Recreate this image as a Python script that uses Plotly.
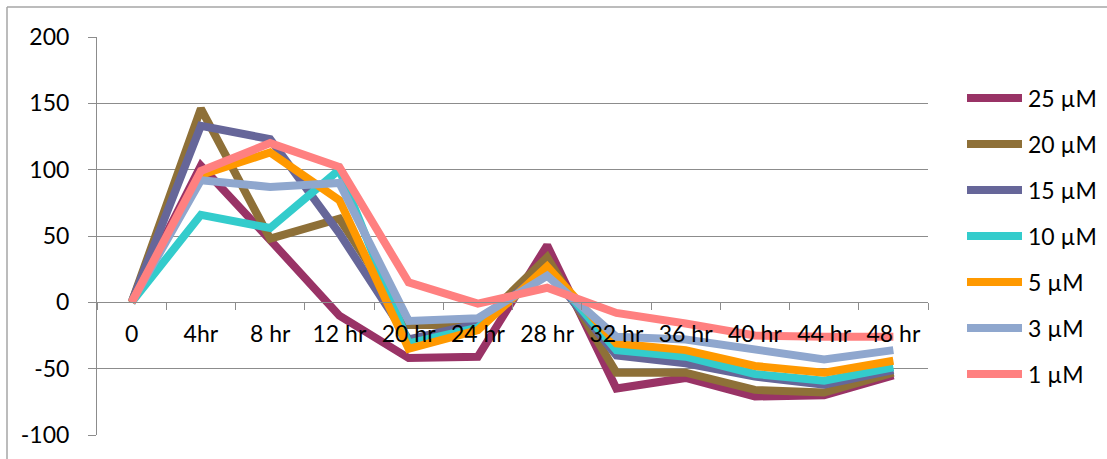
import plotly.graph_objects as go

# Time points along the category axis
time_points = ["0", "4hr", "8 hr", "12 hr", "20 hr", "24 hr", "28 hr",
               "32 hr", "36 hr", "40 hr", "44 hr", "48 hr"]

# Response (%) for each concentration
conc_25 = [0, 103, 47, -10, -42, -41, 43, -65, -57, -71, -70, -55]
conc_20 = [0, 146, 48, 63, -17, -17, 34, -53, -53, -66, -68, -53]
conc_15 = [0, 133, 123, 52, -28, -16, 25, -40, -46, -56, -62, -51]
conc_10 = [0, 66, 56, 100, -31, -19, 25, -36, -41, -54, -59, -49]
conc_5 = [0, 96, 113, 77, -35, -21, 27, -31, -36, -48, -53, -44]
conc_3 = [0, 92, 87, 90, -14, -12, 20, -26, -28, -36, -43, -36]
conc_1 = [0, 99, 120, 102, 15, -1, 11, -8, -16, -25, -26, -26]

series_names = ["25 µM", "20 µM", "15 µM", "10 µM", "5 µM", "3 µM", "1 µM"]
series_values = [conc_25, conc_20, conc_15, conc_10, conc_5, conc_3, conc_1]
series_colors = ["#993366", "#8E7038", "#666699", "#33CCCC",
                 "#FF9900", "#8FA7CE", "#FF8080"]

y_ticks = [-100, -50, 0, 50, 100, 150, 200]
y_tick_text = [str(v) for v in y_ticks]

FONT = "Lato, 'Open Sans', sans-serif"
FSIZE = 23
GRID = "#8c8c8c"

fig = go.Figure()
for name, vals, col in zip(series_names, series_values, series_colors):
    fig.add_trace(go.Scatter(
        x=time_points, y=vals, name=name, mode="lines",
        line=dict(color=col, width=8),
        showlegend=False,
    ))

# plot area geometry (px)
W, H = 1107, 459
L, R, T, B = 97, 179, 37, 24
pw, ph = W - L - R, H - T - B
y_min, y_max = -100, 200


def px_to_paper(px, py):
    return (px - L) / pw, (H - B - py) / ph


zero_pos = (0 - y_min) / (y_max - y_min)

fig.update_layout(
    width=W, height=H,
    margin=dict(l=L, r=R, t=T, b=B),
    paper_bgcolor="white", plot_bgcolor="white",
    font=dict(family=FONT, size=FSIZE, color="black"),
    xaxis=dict(
        type="category", categoryorder="array", categoryarray=time_points,
        range=[-0.5, len(time_points) - 0.5],
        anchor="free", position=zero_pos,
        showline=True, linecolor=GRID, linewidth=1,
        ticks="outside", ticklen=7, tickcolor=GRID, tickson="boundaries",
        showgrid=False, zeroline=False,
        tickfont=dict(size=FSIZE, family=FONT), ticklabelstandoff=11,
    ),
    yaxis=dict(
        range=[y_min, y_max], tickvals=y_ticks, ticktext=y_tick_text,
        showline=True, linecolor=GRID, linewidth=1,
        ticks="outside", ticklen=8, tickcolor=GRID,
        showgrid=True, gridcolor=GRID, gridwidth=1, zeroline=False,
        tickfont=dict(size=FSIZE, family=FONT), ticklabelstandoff=14,
    ),
)

# legend: swatch line plus label for each series, stacked on the right
leg_x0, leg_x1, leg_text_x = 967, 1022, 1026
leg_y0, leg_step = 98, 46
for i, (name, col) in enumerate(zip(series_names, series_colors)):
    yy = leg_y0 + i * leg_step
    sx0, sy = px_to_paper(leg_x0, yy)
    sx1, _ = px_to_paper(leg_x1, yy)
    tx, _ = px_to_paper(leg_text_x, yy)
    fig.add_shape(type="line", xref="paper", yref="paper",
                  x0=sx0, y0=sy, x1=sx1, y1=sy,
                  line=dict(color=col, width=8))
    fig.add_annotation(xref="paper", yref="paper", x=tx, y=sy,
                       xanchor="left", yanchor="middle", text=name,
                       showarrow=False,
                       font=dict(size=FSIZE, family=FONT, color="black"))

# outer chart-area border (top and left edges visible)
bx0, by0 = px_to_paper(7, 7)
bx1, _ = px_to_paper(W + 5, 7)
_, by1 = px_to_paper(7, H + 5)
fig.add_shape(type="line", xref="paper", yref="paper",
              x0=bx0, y0=by0, x1=bx1, y1=by0,
              line=dict(color="#a6a6a6", width=1.5))
fig.add_shape(type="line", xref="paper", yref="paper",
              x0=bx0, y0=by0, x1=bx0, y1=by1,
              line=dict(color="#a6a6a6", width=1.5))

fig.write_html("out.html")
